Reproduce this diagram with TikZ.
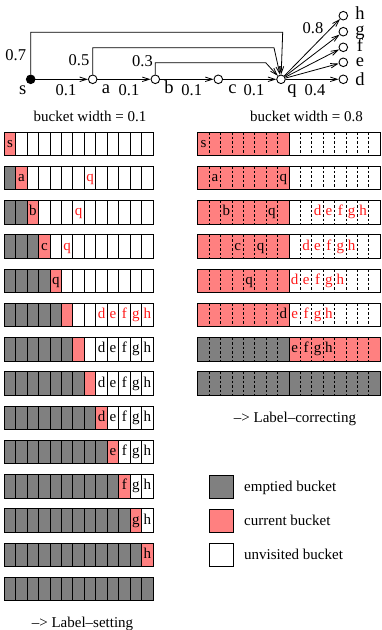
\documentclass[tikz,border=0pt]{standalone}
\usepackage{fontspec}
\setmainfont{Liberation Serif}
\usetikzlibrary{arrows.meta}
\definecolor{curred}{RGB}{255,128,128}
\definecolor{empgray}{RGB}{128,128,128}
\definecolor{predred}{RGB}{255,25,25}
\tikzset{
  vtx/.style={circle,draw,line width=0.9pt,fill=white,minimum size=8.6pt,inner sep=0pt},
  src/.style={vtx,fill=black},
  edge/.style={line width=0.8pt,-{Straight Barb[length=7pt,width=4.5pt]}},
  nlbl/.style={anchor=base,inner sep=0pt,font=\fontsize{18.5}{18.5}\selectfont},
  wlbl/.style={anchor=base,inner sep=0pt,font=\fontsize{16.5}{16.5}\selectfont},
  txt/.style={anchor=base,inner sep=0pt,font=\fontsize{15}{15}\selectfont},
  cellbox/.style={draw,line width=1pt},
  subline/.style={line width=0.9pt,dash pattern=on 2.5pt off 2pt},
}
\begin{document}
\begin{tikzpicture}[x=1pt,y=-1pt]
  \useasboundingbox (0,0) rectangle (381,630);
  % graph
  \node[src] (s) at (30.7,79.3) {};
  \node[vtx] (a) at (92.7,79.3) {};
  \node[vtx] (b) at (155.3,79.3) {};
  \node[vtx] (c) at (218.3,79.3) {};
  \node[vtx] (q) at (281,79.3) {};
  \node[vtx] (d) at (343.3,79.3) {};
  \node[vtx] (e) at (343.3,62.3) {};
  \node[vtx] (f) at (343.3,47.3) {};
  \node[vtx] (g) at (343.3,31.7) {};
  \node[vtx] (h) at (343.3,15.7) {};
  \coordinate (stop) at (282.7,32.3);
  \coordinate (atop) at (274,47.7);
  \coordinate (btop) at (265.7,62.7);
  \draw[edge] (s) -- (a);
  \draw[edge] (a) -- (b);
  \draw[edge] (b) -- (c);
  \draw[edge] (c) -- (q);
  \draw[edge] (s) |- (stop) -- (q);
  \draw[edge] (a) |- (atop) -- (q);
  \draw[edge] (b) |- (btop) -- (q);
  \foreach \t in {d,e,f,g,h}
    \draw[edge] (q) -- (\t);
  % vertex names
  \node[nlbl] (ls) at (22.8,94) {s};
  \node[nlbl] (la) at (106,93.5) {a};
  \node[nlbl] (lb) at (169,93.5) {b};
  \node[nlbl] (lc) at (232.5,93.5) {c};
  \node[nlbl] (lq) at (292,93.5) {q};
  \node[nlbl] (ld) at (360,85) {d};
  \node[nlbl] (le) at (360,66.5) {e};
  \node[nlbl] (lf) at (360,51.7) {f};
  \node[nlbl] (lg) at (360,35) {g};
  \node[nlbl] (lh) at (360,19.5) {h};
  % weights
  \node[wlbl] (w1) at (66,95) {0.1};
  \node[wlbl] (w2) at (129,95) {0.1};
  \node[wlbl] (w3) at (191.7,95) {0.1};
  \node[wlbl] (w4) at (254,95) {0.1};
  \node[wlbl] (w5) at (315,95) {0.4};
  \node[wlbl] (w6) at (313,33) {0.8};
  \node[wlbl] (w7) at (15.7,60) {0.7};
  \node[wlbl] (w8) at (79,65.5) {0.5};
  \node[wlbl] (w9) at (142.5,66) {0.3};

  % bucket width 0.1
  \node[txt] (capl) at (90,121) {bucket width = 0.1};
  \foreach \r in {0,...,13}{
    \pgfmathsetmacro{\yt}{132+34.25*\r}
    \foreach \c in {0,...,12}{
      \pgfmathsetmacro{\xl}{4.3+11.44*\c}
      \ifnum\c<\r \def\fc{empgray}\else\ifnum\c=\r \def\fc{curred}\else\def\fc{white}\fi\fi
      \filldraw[cellbox,fill=\fc] (\xl,\yt) rectangle ++(11.44,23.5);
    }
  }
  \foreach \r/\c/\t/\k in {0/0/s/black,1/1/a/black,1/7/q/predred,2/2/b/black,2/6/q/predred,
      3/3/c/black,3/5/q/predred,4/4/q/black}
    \node[txt,text=\k] (L\r-\c) at ({4.3+11.44*(\c+0.5)},{132+34.25*\r+15.3}) {\t};
  \foreach \r in {5,...,12}{
    \ifnum\r=5 \def\k{predred}\else\def\k{black}\fi
    \foreach \c/\t in {8/d,9/e,10/f,11/g,12/h}{
      \ifnum\c<\r\else
        \node[txt,text=\k] (L\r-\c) at ({4.3+11.44*(\c+0.5)},{132+34.25*\r+15.3}) {\t};
      \fi
    }
  }
  \node[txt] (setting) at (82.5,627) {--> Label--setting};

  % bucket width 0.8
  \node[txt] (capr) at (306.5,121) {bucket width = 0.8};
  \foreach \r in {0,...,7}{
    \pgfmathsetmacro{\yt}{132+34.25*\r}
    \ifnum\r<6 \def\fa{curred}\def\fb{white}\else
      \ifnum\r=6 \def\fa{empgray}\def\fb{curred}\else\def\fa{empgray}\def\fb{empgray}\fi\fi
    \filldraw[cellbox,fill=\fa] (197.8,\yt) rectangle ++(91.2,23.5);
    \filldraw[cellbox,fill=\fb] (289,\yt) rectangle ++(91.2,23.5);
    \foreach \k in {1,...,7}{
      \draw[subline] ({197.8+11.4*\k},\yt) -- ++(0,23.5);
      \draw[subline] ({289+11.4*\k},\yt) -- ++(0,23.5);
    }
  }
  \foreach \r/\c/\t/\k in {0/0/s/black,1/1/a/black,1/7/q/black,
      2/2/b/black,2/6/q/black,2/10/d/predred,2/11/e/predred,2/12/f/predred,2/13/g/predred,2/14/h/predred,
      3/3/c/black,3/5/q/black,3/9/d/predred,3/10/e/predred,3/11/f/predred,3/12/g/predred,3/13/h/predred,
      4/4/q/black,4/8/d/predred,4/9/e/predred,4/10/f/predred,4/11/g/predred,4/12/h/predred,
      5/7/d/black,5/8/e/predred,5/9/f/predred,5/10/g/predred,5/11/h/predred,
      6/8/e/black,6/9/f/black,6/10/g/black,6/11/h/black}
    \node[txt,text=\k] (R\r-\c) at ({197.8+11.4*(\c+0.5)},{132+34.25*\r+15.3}) {\t};
  \node[txt] (correcting) at (295,422.7) {--> Label--correcting};

  % legend
  \foreach \i/\fc/\t in {0/empgray/emptied bucket,1/curred/current bucket,2/white/unvisited bucket}{
    \filldraw[cellbox,fill=\fc] (209,{475+34*\i}) rectangle ++(24,23.5);
    \node[txt,anchor=base west] (leg\i) at (244,{491+34*\i}) {\t};
  }
\end{tikzpicture}
\end{document}
